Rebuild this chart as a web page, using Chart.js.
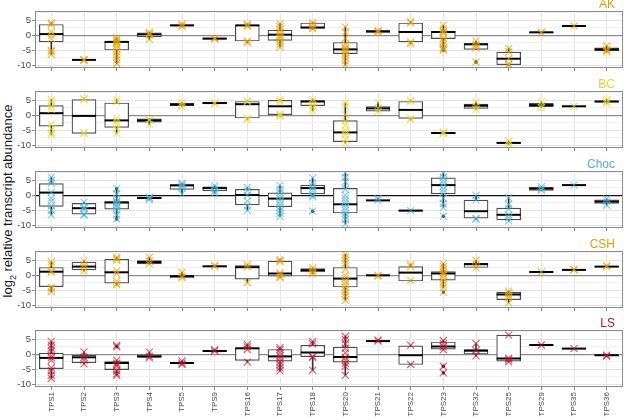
<!DOCTYPE html>
<html>
<head>
<meta charset="utf-8">
<script src="https://cdn.jsdelivr.net/npm/chart.js@4.4.1/dist/chart.umd.min.js"></script>
<style>
html, body { margin: 0; padding: 0; background: #fff; overflow: hidden; width: 624px; height: 420px; }
#wrap { position: relative; width: 624px; height: 420px; font-family: "Liberation Sans", Arial, sans-serif; }
canvas { position: absolute; left: 0; }
.strip { position: absolute; right: 9px; font-size: 12px; line-height: 12px; }
#ytitle { position: absolute; left: -102px; top: 193px; width: 220px; height: 16px; line-height: 16px;
          text-align: center; font-size: 13px; color: #1a1a1a; transform: rotate(-90deg); white-space: nowrap; }
</style>
</head>
<body>
<div id="wrap">
  <div id="ytitle">log<sub style="font-size:9px">2</sub> relative transcript abundance</div>
</div>
<script>
// categories (x axis)
const categories = ['TPS1', 'TPS2', 'TPS3', 'TPS4', 'TPS5', 'TPS9', 'TPS16', 'TPS17', 'TPS18',
                    'TPS20', 'TPS21', 'TPS22', 'TPS23', 'TPS32', 'TPS25', 'TPS29', 'TPS35', 'TPS36'];
const tickMajor = [-10, -5, 0, 5];
const tickStep = 2.5; // minor grid every 2.5, labels on the majors

// box stats per category: [lower whisker, q1, median, q3, upper whisker]
const akStats = [
  [-6.4, -2.2, 0.4, 3.6, 4.2], [-8.3, -8.3, -8.2, -8.1, -8.1], [-9.4, -4.9, -2.2, -2.0, -0.9],
  [-1.3, -0.5, 0.3, 0.8, 1.0], [2.8, 3.1, 3.3, 3.5, 3.8], [-1.3, -1.3, -1.1, -0.9, -0.9],
  [-2.5, -1.9, 3.3, 3.4, 3.8], [-3.9, -1.7, 0.2, 1.7, 3.9], [2.0, 2.4, 2.6, 4.1, 4.3],
  [-10, -6.1, -4.7, -2.4, 2.8], [1.0, 1.0, 1.3, 1.6, 1.6], [-2.8, -2.2, 1.1, 4.1, 4.5],
  [-4.5, -1.1, 1.1, 1.3, 3.3], [-4.7, -4.7, -3.0, -2.8, -1.9], [-10, -9.8, -7.8, -5.6, -4.4],
  [0.8, 0.9, 1.0, 1.1, 1.1], [3.0, 3.0, 3.1, 3.2, 3.2], [-5.5, -5.2, -4.7, -4.2, -3.5]
];
const akPoints = [
  [4.2, 3.6, 1.1, 0, -1.1, -5, -5.5, -6.4], [-8.2, -8.1, -8.3], [-0.9, -1.5, -2, -2.3, -2.8, -3.5, -4.5, -5.5, -6.5, -7.3, -8.2, -9.4],
  [1.0, 0.5, 0.2, -1.3], [3.8, 3.3, 2.8], [-1.1, -1.0, -1.2],
  [3.8, 3.3, 3.0, -1.9, -2.5], [3.9, 3, 2, 1, 0.3, -0.5, -1, -2, -3, -3.9], [4.3, 3.5, 2.6, 2.2],
  [2.8, 1.0, -1, -3, -4, -4.5, -5, -5.5, -6.5, -7.5, -8.5, -9.8], [1.3, 1.6, 1.0], [4.5, 4.1, -2.2, -2.8],
  [3.3, 2, 1.3, 1.1, 0.5, -1, -2, -3, -4, -4.5, -4.9], [-1.9, -3, -3.5, -4.2, -8.9], [-4.4, -5.5, -7.8, -9.5, -10],
  [1.0, 0.8], [3.1], [-3.5, -4.7, -5.0, -5.5]
];
const akOutliers = [[12, -4.9], [13, -8.9]];

const bcStats = [
  [-6.5, -3.6, 0.7, 3.2, 5.3], [-6.0, -6.0, -0.2, 5.2, 5.6], [-6.0, -4.0, -1.7, 4.1, 5.3],
  [-3.1, -2.3, -1.7, -1.2, -1.2], [2.9, 3.2, 3.6, 4.0, 4.3], [3.8, 3.8, 4.1, 4.3, 4.3],
  [-1.4, -0.9, 3.7, 4.6, 4.8], [-0.3, 0.2, 3.0, 5.0, 5.3], [1.5, 3.2, 4.6, 4.9, 5.3],
  [-9.2, -8.8, -5.7, -1.8, 4.1], [1.3, 1.4, 2.3, 2.9, 4.3], [-1.5, -1.0, 1.8, 4.6, 5.0],
  [-6.1, -6.1, -5.9, -5.7, -5.5], [2.0, 2.3, 3.2, 3.7, 4.5], [-9.8, -9.4, -9.2, -9.0, -8.5],
  [2.6, 2.9, 3.4, 4.0, 4.5], [2.9, 2.9, 3.0, 3.1, 3.1], [4.0, 4.4, 4.6, 4.8, 5.3]
];
const bcPoints = [
  [5.3, 4.5, 3, 2, -3, -4.5, -5.8, -6.5], [5.6, 5.2, -6.0, -5.8], [5.3, 4.5, -1.0, -2, -3, -4.5, -6],
  [-1.7, -1.4, -3.1], [4.3, 3.6, 2.9], [4.1, 3.9],
  [4.8, 4.5, -0.9, -1.4], [5.3, 4.8, 4.5, 0.5, 0, -0.3], [5.3, 4.5, 3.5, 2.5, 1.5],
  [4.1, 3, 0.3, -2, -3.3, -5, -5.7, -6.5, -8, -9.2], [4.3, 2.3, 1.3], [5.0, 4.6, -1.0, -1.5],
  [-5.9, -5.5, -6.1], [4.5, 3, 2], [-8.5, -9.2, -9.8],
  [4.5, 3.4, 2.6], [3.0], [5.3, 4.6, 4.0]
];
const bcOutliers = [];

const chocStats = [
  [-6.5, -3.7, 0.9, 3.9, 6.0], [-6.7, -6.3, -4.3, -2.7, -2.3], [-7.9, -4.6, -2.4, -2.1, 2.2],
  [-1.5, -1.1, -0.9, -0.7, -0.7], [0.5, 2.0, 3.3, 3.6, 4.0], [0.7, 1.5, 2.4, 2.8, 3.2],
  [-5.0, -3.2, 0.1, 2.0, 2.6], [-7.0, -3.8, -1.1, 0.8, 3.3], [-0.5, 0.5, 2.4, 3.4, 5.8],
  [-9.5, -5.9, -3.0, 2.3, 7.4], [-1.7, -1.7, -1.7, -1.6, -1.0], [-5.3, -5.3, -5.1, -4.9, -4.9],
  [-4.0, 0.5, 3.4, 5.8, 7.4], [-8.0, -7.6, -5.3, -1.6, 0], [-8.5, -8.2, -6.5, -4.3, -0.8],
  [1.6, 1.6, 2.2, 2.7, 2.9], [3.3, 3.3, 3.4, 3.5, 3.5], [-3.3, -2.7, -2.1, -1.5, -1.2]
];
const chocPoints = [
  [6, 5, 4, 1, -1, -2, -3.5, -5, -6.5], [-2.3, -4, -4.3, -5, -6.3, -6.7], [2.2, 0.5, -1, -2, -2.4, -3, -3.5, -4, -5, -6.5, -7.9],
  [-0.9, -1.5, -0.7], [4, 3.5, 3, 2.5, 0.5], [3.2, 2.4, 1.5, 0.7],
  [2.6, 1.5, 0, -2, -3.5, -5], [3.3, 2, 1, 0, -1, -2, -3, -4, -5, -6, -7], [5.8, 4, 3, 2.4, 1.5, 0, -0.5, -5.3],
  [7.4, 6, 4.5, 2, 0, -1, -2, -3, -4, -5, -6, -7, -8, -9.5], [-1.7, -1.0], [-5.1],
  [7.4, 6, 5, 4, 3, 2, 1, -1, -2.8, -4, -7], [0, -1.6, -7.6, -8], [-0.8, -3, -4.5, -6.5, -7.5, -8.5],
  [2.9, 2.2, 1.7], [3.4], [-1.2, -2.1, -3.3]
];
const chocOutliers = [[2, 2.2], [2, -7.9], [8, -5.3], [12, -7.0]];

const cshStats = [
  [-5.5, -3.8, 1.2, 2.6, 4.5], [1.5, 1.8, 2.9, 4.4, 4.8], [-3.2, -2.6, 1.0, 5.3, 6.0],
  [3.8, 3.8, 4.4, 4.9, 6.0], [-0.8, -0.8, -0.3, 0, 1.0], [2.9, 2.9, 3.0, 3.1, 3.3],
  [-2.4, -1.3, 2.7, 3.2, 3.5], [-0.8, -0.3, 0.6, 4.7, 5.3], [0.5, 1.1, 1.7, 2.2, 2.5],
  [-8.3, -3.9, -1.1, 2.6, 7.0], [-0.3, -0.2, 0, 0.1, 0.1], [-1.9, -1.9, 0.9, 2.9, 3.6],
  [-4.1, -1.6, 0.6, 1.2, 3.9], [2.5, 2.6, 3.7, 4.0, 5.0], [-9.1, -8.1, -6.4, -5.7, -5.3],
  [1.0, 1.0, 1.1, 1.2, 1.2], [1.7, 1.7, 1.8, 1.9, 2.0], [2.8, 2.8, 2.9, 3.0, 3.2]
];
const cshPoints = [
  [4.5, 3.5, 1.5, 1, -4, -4.6, -5.5], [4.8, 3.5, 2.5, 1.5], [6, 5.5, 5, 1.5, 0.5, -2, -2.8, -3.2],
  [6, 4.7, 3.8], [1, -0.3, -0.8], [3, 3.3],
  [3.5, 2.8, -2.4], [5.3, 4.8, 4.5, 0.8, 0.3, -0.3, -0.8], [2.5, 1.7, 1, 0.5],
  [7, 6, 5, 4, 2, 0, -1, -2, -3, -4, -5, -6, -7, -8.3], [0, -0.3], [3.6, 2.9, -1.7],
  [3.9, 3, 2, 1, 0.5, 0, -1, -2, -3, -4.1, -5.6], [5, 3.7, 2.5], [-5.3, -6, -6.8, -7.5, -9.1],
  [1.1], [1.8, 2.0], [2.9, 3.2]
];
const cshOutliers = [[12, -5.6]];

const lsStats = [
  [-8.0, -4.8, -1.2, 0.4, 4.3], [-3.2, -2.8, -1.0, -0.3, 0.8], [-7.0, -5.1, -2.9, -2.4, -2.0],
  [-1.2, -1.0, -0.7, -0.2, 0.7], [-3.4, -3.1, -2.9, -2.7, -2.2], [1.0, 1.0, 1.1, 1.2, 1.5],
  [-2.6, -2.0, 2.0, 2.1, 3.3], [-5.5, -2.3, -0.7, 1.6, 2.2], [-5.3, -0.8, 0.6, 3.0, 4.3],
  [-7.0, -2.6, -0.9, 2.4, 6.0], [4.3, 4.3, 4.4, 4.5, 4.8], [-3.4, -3.4, -0.3, 2.8, 3.0],
  [1.5, 1.7, 2.6, 4.1, 4.6], [-0.5, 0.1, 1.2, 1.6, 3.6], [-2.5, -2.3, -1.4, 6.4, 6.4],
  [3.0, 3.0, 3.1, 3.2, 3.2], [1.8, 1.8, 1.9, 2.0, 2.0], [-0.7, -0.5, -0.3, -0.1, -0.1]
];
const lsPoints = [
  [4.3, 3, 2, 1, -0.5, -1.2, -2, -4.5, -5.5, -7, -8], [0.8, -1, -2, -3.2], [3, 2.5, -2, -3, -3.5, -4, -5.5, -6.5, -7],
  [0.7, -0.7, -1.2], [-2.2, -2.9, -3.4], [1.1, 1.5],
  [3.3, 2.5, 1.6, -2.6], [2.2, 1.5, 0.5, -0.5, -1.5, -2.5, -3.5, -4.5, -5.5], [4.3, 3.5, -0.7, -1, -5.3],
  [6, 5, 3.5, 2, 0.5, -1, -2, -3, -4, -7], [4.4, 4.8], [3.0, -3.4],
  [4.6, 3.5, 2.5, 1.5, -4.0, -6.2], [3.6, 1.2, -0.5], [6.4, -1.3, -1.8, -2.5],
  [3.1], [1.9], [-0.3, -0.7]
];
const lsOutliers = [[2, 2.6], [12, -4.0], [12, -6.2]];

const panels = [
  { name: 'AK', color: '#E69F00', zero: '#8c8c8c', stats: akStats, points: akPoints, outliers: akOutliers },
  { name: 'BC', color: '#E8D52E', zero: '#8c8c8c', stats: bcStats, points: bcPoints, outliers: bcOutliers },
  { name: 'Choc', color: '#4FB3D6', zero: '#111111', stats: chocStats, points: chocPoints, outliers: chocOutliers },
  { name: 'CSH', color: '#E69F00', zero: '#8c8c8c', stats: cshStats, points: cshPoints, outliers: cshOutliers },
  { name: 'LS', color: '#C0152F', zero: '#8c8c8c', stats: lsStats, points: lsPoints, outliers: lsOutliers }
];

const panelTops = [12, 92, 172, 252, 331];
const PLOT_H = 57;
const FONT = '"Liberation Sans", Arial, sans-serif';

function alpha(hex, a) {
  const n = parseInt(hex.slice(1), 16);
  return 'rgba(' + (n >> 16) + ',' + ((n >> 8) & 255) + ',' + (n & 255) + ',' + a + ')';
}
function isMajor(v) {
  return tickMajor.some(m => Math.abs(m - v) < 1e-6);
}

// grey frame around each panel
const panelBorder = {
  id: 'panelBorder',
  afterDraw(chart) {
    const a = chart.chartArea, c = chart.ctx;
    c.save();
    c.strokeStyle = '#8c8c8c';
    c.lineWidth = 1;
    c.strokeRect(Math.round(a.left) + 0.5, Math.round(a.top) + 0.5, Math.round(a.width) - 1, Math.round(a.height) - 1);
    c.restore();
  }
};

const wrap = document.getElementById('wrap');

panels.forEach((p, idx) => {
  const last = idx === panels.length - 1;
  const axisH = last ? 30 : 4;
  const padBottom = last ? 0 : 6;

  const canvas = document.createElement('canvas');
  canvas.width = 624;
  canvas.height = 8 + PLOT_H + axisH + padBottom;
  canvas.style.top = (panelTops[idx] - 9) + 'px';
  wrap.appendChild(canvas);

  const strip = document.createElement('div');
  strip.className = 'strip';
  strip.style.top = (panelTops[idx] - 14) + 'px';
  strip.style.color = p.color;
  strip.textContent = p.name;
  wrap.appendChild(strip);

  const whiskers = p.stats.map(s => [s[0], s[4]]);
  const boxes = p.stats.map(s => [s[1], s[3]]);
  const medians = p.stats.map((s, i) => ({ x: categories[i], y: s[2] }));
  const pts = [];
  p.points.forEach((arr, i) => arr.forEach(v => pts.push({ x: categories[i], y: v })));
  const outs = p.outliers.map(o => ({ x: categories[o[0]], y: o[1] }));

  new Chart(canvas, {
    type: 'bar',
    data: {
      labels: categories,
      datasets: [
        { type: 'bar', data: whiskers, backgroundColor: '#333', barThickness: 1, grouped: false, order: 5 },
        { type: 'bar', data: boxes, backgroundColor: '#ffffff', borderColor: '#4d4d4d', borderWidth: 1.2,
          borderSkipped: false, barThickness: 24, grouped: false, order: 4 },
        { type: 'line', data: medians, showLine: false, pointStyle: 'line', pointRadius: 12,
          pointBorderWidth: 2, pointBorderColor: '#000', order: 3 },
        { type: 'line', data: outs, showLine: false, pointStyle: 'circle', pointRadius: 1.7,
          pointBackgroundColor: '#222', pointBorderWidth: 0, order: 2 },
        { type: 'line', data: pts, showLine: false, pointStyle: 'crossRot', pointRadius: 5,
          pointBorderWidth: 1.2, pointBorderColor: alpha(p.color, 0.65), order: 1 }
      ]
    },
    options: {
      responsive: false,
      animation: false,
      events: [],
      layout: { autoPadding: false, padding: { top: 8, bottom: padBottom, left: 0, right: 1 } },
      plugins: { legend: { display: false }, tooltip: { enabled: false } },
      scales: {
        x: {
          type: 'category',
          offset: true,
          grid: { offset: false, color: '#e6e6e6', tickLength: 3, tickColor: '#8c8c8c' },
          border: { display: false },
          ticks: { display: last, autoSkip: false, maxRotation: 90, minRotation: 90, padding: 2,
                   color: '#4d4d4d', font: { family: FONT, size: 8 } },
          afterFit: s => { s.height = axisH; }
        },
        y: {
          type: 'linear',
          min: -10.9,
          max: 8.1,
          grid: {
            tickLength: 3,
            color: c => Math.abs(c.tick.value) < 1e-6 ? p.zero : (isMajor(c.tick.value) ? '#e3e3e3' : '#f2f2f2'),
            lineWidth: c => Math.abs(c.tick.value) < 1e-6 ? 1.2 : 1,
            tickColor: c => isMajor(c.tick.value) ? '#8c8c8c' : 'rgba(0,0,0,0)'
          },
          border: { display: false },
          ticks: { stepSize: tickStep, includeBounds: false, autoSkip: false, padding: 1, z: 1,
                   color: '#4d4d4d', font: { family: FONT, size: 9.5 },
                   callback: v => isMajor(v) ? String(Math.round(v)) : '' },
          afterFit: s => { s.width = 35; }
        }
      }
    },
    plugins: [panelBorder]
  });
});
</script>
</body>
</html>
